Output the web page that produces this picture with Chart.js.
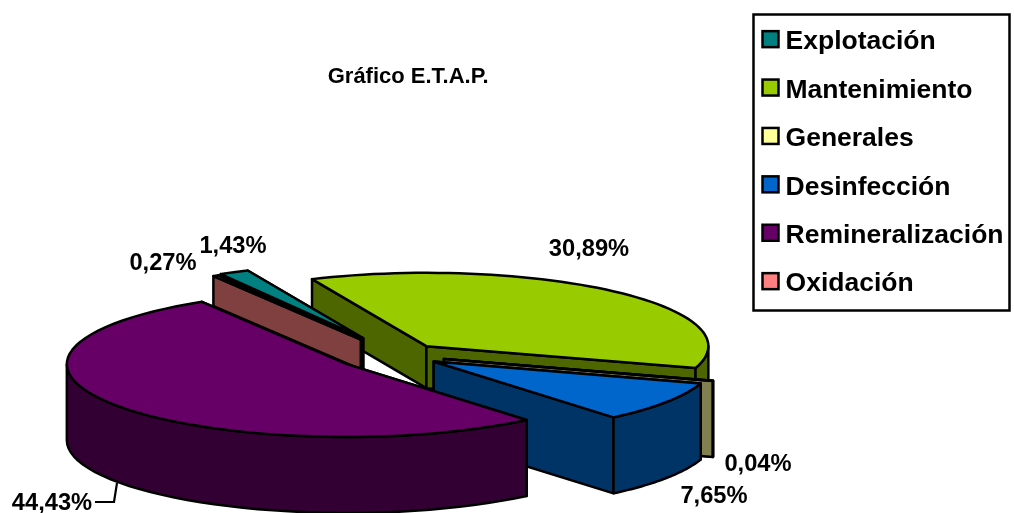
<!DOCTYPE html>
<html><head><meta charset="utf-8">
<style>html,body{margin:0;padding:0;background:#fff}#w{width:1014px;height:513px}</style>
<script src="https://cdn.jsdelivr.net/npm/chart.js@4"></script></head>
<body><div id="w"><canvas id="c" width="1014" height="513"></canvas></div>
<script>
const categories = ['Explotación','Mantenimiento','Generales','Desinfección','Remineralización','Oxidación'];
const values = [1.43,30.89,0.04,7.65,44.43,0.27];
const topColors = ['#008080','#99CC00','#FFFF99','#0066CC','#660066','#FF8080'];
const wallColors = ['#004040','#4D6600','#808050','#003366','#330033','#804040'];
const titleText = 'Gráfico E.T.A.P.';

// layout / styling constants
const FONT = '"Liberation Sans", Arial, sans-serif';
const explode = [47,30,33,30,40,45];      // chart units
const depths = [30,42,76,76,76,30];
const rimRadius = [285,282,282,280,280,285];
const drawOrder = [1,0,5,2,3,4];
const CX=396, CY=355, SQ=0.26;
const labelPos = [[233,246],[163,263],[589,249],[758,464],[714,496],[52,503]];
const labelOrder = [0,5,1,2,3,4];

const pie3d = {
  id:'pie3d',
  beforeDatasetDraw(chart){
    const ctx=chart.ctx, arcs=chart.getDatasetMeta(0).data;
    ctx.save();
    ctx.lineJoin='round'; ctx.strokeStyle='#000'; ctx.lineWidth=2.5;
    for(const i of drawOrder){
      const a=arcs[i], p=a.getProps(['x','y','startAngle','endAngle','outerRadius']);
      const R=rimRadius[i], s=R/p.outerRadius, mid=(p.startAngle+p.endAngle)/2;
      const off=a.options.offset*s;
      const ax=CX+Math.cos(mid)*off, ay=CY+Math.sin(mid)*off*SQ;
      const pt=(t,d=0)=>[ax+Math.cos(t)*R, ay+Math.sin(t)*R*SQ+d];
      const D=depths[i];
      const poly=(pts,fill)=>{ctx.beginPath();pts.forEach((q,k)=>k?ctx.lineTo(q[0],q[1]):ctx.moveTo(q[0],q[1]));ctx.closePath();ctx.fillStyle=fill;ctx.fill();ctx.stroke();};
      // cut faces, the one further back first
      const cuts=[p.startAngle,p.endAngle].sort((u,v)=>Math.sin(u)-Math.sin(v));
      for(const t of cuts){
        poly([[ax,ay],pt(t),pt(t,D),[ax,ay+D]],wallColors[i]);
      }
      // visible rim: the part of the sweep facing the viewer
      for(let k=0;k<2;k++){
        const lo=Math.max(p.startAngle,k*2*Math.PI), hi=Math.min(p.endAngle,Math.PI+k*2*Math.PI);
        if(hi>lo){
          const n=40,up=[],dn=[];
          for(let j=0;j<=n;j++){const t=lo+(hi-lo)*j/n;up.push(pt(t));dn.unshift(pt(t,D));}
          poly(up.concat(dn),wallColors[i]);
        }
      }
      const n=60,top=[[ax,ay]];
      for(let j=0;j<=n;j++){top.push(pt(p.startAngle+(p.endAngle-p.startAngle)*j/n));}
      poly(top,topColors[i]);
    }
    ctx.restore();
    return false;
  },
  afterDraw(chart){
    const ctx=chart.ctx, lg=chart.legend;
    ctx.save();
    // legend frame and swatches
    ctx.strokeStyle='#000'; ctx.lineWidth=2.5;
    ctx.strokeRect(753.5,14.5,256,296);
    lg.legendHitBoxes.forEach((h,i)=>{
      const cy=h.top+h.height/2-3;
      ctx.fillStyle=topColors[i]; ctx.fillRect(762.5,cy-8,16,16);
      ctx.strokeRect(762.5,cy-8,16,16);
    });
    // value labels
    ctx.fillStyle='#000'; ctx.font='bold 23.7px '+FONT; ctx.textAlign='center'; ctx.textBaseline='middle';
    labelOrder.forEach((v,k)=>{
      ctx.fillText(values[v].toFixed(2).replace('.',',')+'%',labelPos[k][0],labelPos[k][1]);
    });
    // leader line of the largest slice
    ctx.lineWidth=2.2; ctx.beginPath(); ctx.moveTo(117,483); ctx.lineTo(114,502); ctx.lineTo(95,502); ctx.stroke();
    ctx.restore();
  }
};

new Chart(document.getElementById('c'),{
  type:'pie',
  data:{labels:categories,datasets:[{data:values,backgroundColor:topColors,offset:explode,borderWidth:0}]},
  options:{
    responsive:false,animation:false,rotation:-30,
    layout:{padding:{left:76,top:7,right:0.5,bottom:0}},
    plugins:{
      tooltip:{enabled:false},
      title:{display:true,text:titleText,fullSize:false,color:'#000',
        font:{family:FONT,size:22,weight:'bold'},padding:{top:57,bottom:5}},
      legend:{position:'right',align:'start',
        labels:{boxWidth:10,boxHeight:16,padding:21.9,color:'#000',
          font:{family:FONT,size:26.5,weight:'bold'},
          generateLabels(chart){return categories.map((t,i)=>({text:t,fillStyle:'rgba(0,0,0,0)',strokeStyle:'rgba(0,0,0,0)',lineWidth:0,index:i}));}}}
    }
  },
  plugins:[pie3d]
});
</script></body></html>
